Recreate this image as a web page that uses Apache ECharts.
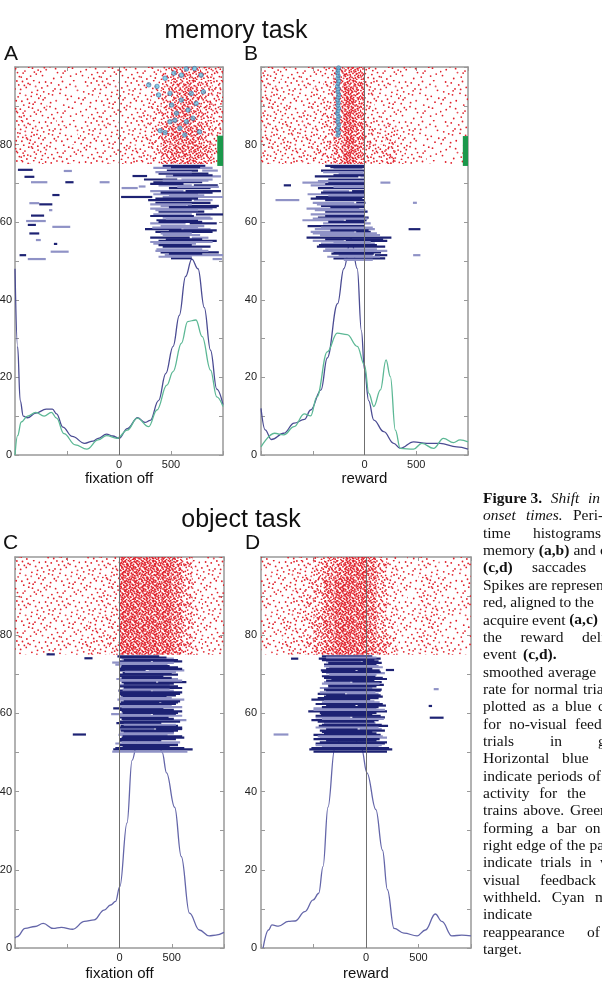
<!DOCTYPE html>
<html>
<head>
<meta charset="utf-8">
<script src="https://cdn.jsdelivr.net/npm/echarts@6/dist/echarts.min.js"></script>
<style>
  html, body { margin: 0; padding: 0; background: #fff; }
  #chart { width: 602px; height: 1001px; }
</style>
</head>
<body>
<div id="chart"></div>
<script>
// raster: time bin edges (ms) and trial bands, density per cell (0-9), top band first
const rasterEdges = [-1000,-900,-800,-700,-600,-500,-400,-300,-200,-100,0,100,200,300,400,500,600,700,800,900,1000];
const rasterBands = [100, 95, 90, 85, 80, 75];

const rasterA = [
  [3,3,3,2,2,2,2,3,3,3, 3,3,3,4,5,7,7,7,6,5],
  [3,3,3,2,2,2,2,2,3,3, 3,3,3,4,6,7,8,7,6,5],
  [4,3,3,3,2,2,2,3,3,3, 3,3,4,5,6,8,8,7,6,5],
  [4,4,3,3,3,2,3,3,3,3, 3,3,4,5,7,8,8,8,6,5],
  [4,4,4,3,3,3,3,3,3,3, 4,4,4,5,7,8,8,8,7,5]
];
const rasterB = [
  [4,4,3,3,3,3,4,7,8,8, 4,3,3,3,2,2,2,2,2,2],
  [4,4,3,3,3,4,4,7,9,8, 4,3,3,3,2,2,2,2,2,2],
  [4,4,4,3,4,4,5,7,9,8, 4,3,3,3,2,2,2,2,2,2],
  [4,4,4,4,4,4,5,7,9,8, 5,4,5,3,3,2,2,2,2,2],
  [4,4,4,4,4,5,5,7,9,8, 5,5,6,4,3,3,2,2,2,2]
];
const rasterC = [
  [3,3,3,3,3,3,3,3,3,4, 9,9,9,9,9,8,6,3,3,3],
  [3,3,3,3,3,3,3,3,4,4, 9,9,9,9,9,8,6,3,3,3],
  [3,3,3,3,3,3,3,3,4,4, 9,9,9,9,9,8,6,4,3,3],
  [3,3,3,3,3,3,3,4,4,4, 9,9,9,9,9,8,6,4,3,3],
  [3,3,3,3,3,3,4,4,4,5, 9,9,9,9,9,8,6,4,3,3]
];
const rasterD = [
  [3,3,3,4,4,6,7,8,9,9, 8,6,4,3,2,3,3,2,2,3],
  [3,3,3,4,5,6,8,9,9,9, 8,6,4,3,2,4,4,3,2,3],
  [3,3,3,4,5,6,8,9,9,9, 8,6,4,3,2,4,4,3,2,3],
  [3,3,4,4,5,7,8,9,9,9, 8,6,4,3,3,4,4,2,2,2],
  [3,3,4,4,5,7,8,9,9,9, 8,7,5,3,3,4,4,3,2,2]
];

// activity periods: [trial, start ms, end ms]
const barsA = [
  [73.5,-972,-830],[73.2,-531,-453],[71.7,-909,-814],[70.3,-846,-689],[70.3,-516,-437],[70.3,-186,-91],
  [67.0,-641,-572],[64.9,-862,-767],[64.6,-767,-641],[63.1,-673,-641],[61.7,-846,-720],[60.3,-893,-704],
  [59.3,-877,-799],[58.8,-641,-469],[57.1,-862,-767],[55.4,-799,-752],[54.4,-626,-594],[52.4,-657,-484],
  [51.5,-956,-893],[50.5,-877,-704],[71.9,130,270],[69.2,190,255],
  [74.5,420,830],[74.0,330,900],[73.3,460,760],[73.3,800,950],[72.5,380,860],[71.8,450,980],
  [71.0,240,560],[71.0,600,900],[70.3,330,800],[69.5,380,700],[69.5,720,950],[68.8,25,180],
  [68.8,480,880],[68.0,300,620],[68.0,640,980],[67.2,330,760],[66.5,20,320],[66.5,420,1000],
  [65.7,280,700],[65.7,720,900],[65.0,350,880],[64.2,400,650],[64.2,660,960],[63.5,300,900],
  [62.7,380,820],[62.0,330,700],[62.0,740,1000],[61.2,420,880],[60.5,360,760],[59.7,300,640],
  [59.7,680,940],[59.0,400,820],[58.2,250,600],[58.2,620,880],[57.5,350,900],[56.7,420,780],
  [56.0,300,680],[56.0,700,860],[55.2,380,940],[54.5,330,740],[53.7,420,880],[53.0,360,800],
  [52.2,400,960],[51.5,440,1000],[50.7,500,700],[50.5,900,990],
  [74.2,500,780],[72.9,350,700],[72.1,520,900],[70.7,420,860],[69.9,300,620],[69.1,560,960],
  [67.6,400,900],[66.9,480,820],[66.1,350,760],[64.6,300,700],[63.9,480,940],[63.1,350,760],
  [61.6,300,720],[60.9,450,900],[60.1,380,800],[58.6,320,760],[57.9,480,940],[57.1,400,700],
  [55.6,450,800],[54.9,300,900],[54.1,380,700],[52.6,350,860],[51.9,480,800],[51.1,380,700]
];
const barsB = [
  [74.5,-380,0],[74.0,-300,-20],[73.3,-420,0],[72.5,-250,0],[71.8,-480,-60],[71.8,-40,0],
  [71.0,-350,0],[70.2,-600,-380],[70.2,-350,0],[70.2,154,250],[69.5,-780,-710],[69.5,-520,0],
  [68.8,-450,0],[68.0,-400,-150],[68.0,-120,0],[67.2,-550,0],[66.5,-470,0],[65.7,-860,-630],
  [65.7,-380,0],[65.0,-500,-100],[65.0,-80,10],[65.0,468,506],[64.2,-420,0],[63.5,-560,-50],
  [62.7,-380,30],[62.0,-520,0],[61.2,-450,40],[60.5,-600,-200],[60.5,-180,20],[59.7,-400,60],
  [59.0,-550,0],[58.2,-480,100],[58.2,426,540],[57.5,-520,-100],[57.5,-80,60],[56.7,-430,150],
  [56.0,-560,260],[55.2,-500,-200],[55.2,-180,220],[54.5,-420,100],[53.7,-460,200],[53.0,-380,120],
  [52.2,-300,160],[51.5,-250,80],[51.5,100,220],[51.5,470,540],[50.7,-300,200],[50.3,-200,80],
  [74.2,-330,0],[72.9,-400,-10],[72.1,-300,0],[70.6,-450,0],[69.9,-380,0],[69.1,-300,0],
  [67.6,-420,0],[66.9,-350,0],[66.1,-520,-20],[64.6,-460,0],[63.9,-330,0],[63.1,-480,10],
  [61.6,-380,0],[60.9,-500,30],[60.1,-350,0],[58.6,-420,80],[57.9,-330,40],[57.1,-500,120],
  [55.6,-380,180],[54.9,-300,60],[54.1,-440,120],[52.6,-400,220],[51.9,-320,90],[51.1,-360,150]
];
const barsC = [
  [75.1,-698,-619],[74.1,-336,-258],[73.0,-70,10],[54.6,-447,-321],
  [74.6,-20,380],[74.0,20,520],[73.3,0,300],[73.3,320,600],[72.5,-40,460],[71.8,10,560],
  [71.0,0,250],[71.0,280,620],[70.3,30,500],[69.5,0,420],[68.8,-30,560],[68.0,20,350],
  [68.0,370,640],[67.3,0,480],[66.5,40,600],[65.8,-10,300],[65.8,320,520],[65.0,0,580],
  [64.3,30,450],[63.5,-20,620],[62.8,10,380],[62.8,400,560],[62.0,0,500],[61.3,-60,420],
  [60.5,20,600],[59.8,-80,300],[59.8,320,540],[59.0,0,470],[58.3,30,640],[57.5,-30,400],
  [56.8,10,560],[56.0,0,330],[56.0,350,600],[55.3,40,520],[54.5,-10,460],[53.8,20,620],
  [53.0,0,400],[52.3,-40,560],[51.5,30,480],[50.8,-60,700],[50.2,-70,650],
  [74.3,0,450],[73.6,40,560],[72.9,0,520],[72.1,20,480],[71.4,0,600],[70.6,50,540],
  [69.9,0,560],[69.1,20,500],[68.4,0,600],[67.6,40,520],[66.9,0,560],[66.1,30,480],
  [65.4,0,600],[64.6,10,540],[63.9,0,500],[63.1,40,580],[62.4,0,540],[61.6,20,600],
  [60.9,0,520],[60.1,30,560],[59.4,0,600],[58.6,20,520],[57.9,0,580],[57.1,40,540],
  [56.4,0,600],[55.6,10,560],[54.9,0,520],[54.1,30,600],[53.4,0,540],[52.6,20,580],
  [51.9,0,560],[51.1,-40,620]
];
const barsD = [
  [74.0,-714,-645],[71.1,189,267],[66.2,645,692],[61.9,597,629],[58.9,607,739],[54.6,-880,-739],
  [74.6,-420,60],[74.0,-450,140],[73.3,-380,-50],[73.3,-30,120],[72.5,-400,100],[71.8,-350,160],
  [71.0,-430,-100],[71.0,-80,130],[70.3,-380,180],[69.5,-420,90],[68.8,-330,200],[68.0,-400,-150],
  [68.0,-130,150],[67.3,-360,170],[66.5,-440,60],[65.8,-380,140],[65.0,-460,-200],[65.0,-180,120],
  [64.3,-400,160],[63.5,-520,40],[62.8,-420,130],[62.0,-380,-100],[62.0,-80,190],[61.3,-500,100],
  [60.5,-550,200],[59.8,-430,60],[59.0,-480,-150],[59.0,-130,180],[58.3,-520,120],[57.5,-400,90],
  [56.8,-450,210],[56.0,-380,-80],[56.0,-60,150],[55.3,-420,60],[54.5,-500,140],[53.8,-440,200],
  [53.0,-380,100],[52.3,-480,180],[51.5,-420,120],[50.8,-540,250],[50.2,-500,200],
  [74.3,-380,100],[73.6,-420,80],[72.9,-360,150],[72.1,-400,120],[71.4,-380,60],[70.6,-420,140],
  [69.9,-350,100],[69.1,-400,160],[68.4,-380,80],[67.6,-420,130],[66.9,-360,100],[66.1,-400,150],
  [65.4,-440,90],[64.6,-380,140],[63.9,-460,120],[63.1,-400,80],[62.4,-480,160],[61.6,-420,120],
  [60.9,-500,180],[60.1,-440,100],[59.4,-480,140],[58.6,-420,170],[57.9,-460,80],[57.1,-420,150],
  [56.4,-480,120],[55.6,-440,180],[54.9,-400,100],[54.1,-460,160],[53.4,-500,130],[52.6,-440,200],
  [51.9,-480,150],[51.1,-520,220]
];

// smoothed firing rate: [ms, value]
const rateABlue = [[-1000,48],[-975,28],[-950,14],[-920,10],[-880,9.6],[-800,10.8],[-700,11.8],[-640,11.8],[-600,10.6],[-540,7.2],[-450,4.8],[-330,3.0],[-250,3.6],[-200,4.3],[-120,5.4],[-60,4.9],[0,4.3],[80,6.8],[180,9.6],[250,8.4],[300,8.9],[380,14],[450,21],[520,28],[580,36],[640,46],[700,50.5],[760,48],[820,38],[880,27],[940,17],[1000,13]];
const rateAGreen = [[-1000,0],[-975,5],[-940,8.5],[-880,10],[-800,11],[-720,10],[-650,11],[-600,9.5],[-530,5.5],[-420,2.6],[-310,1.5],[-200,3.9],[-120,5.0],[-20,4.3],[80,6.4],[175,9.5],[285,7.3],[365,11.6],[460,18],[520,21.5],[600,28.8],[660,34.4],[740,34.8],[800,30.5],[880,21.9],[940,15],[1000,12.5]];
const rateBBlue = [[-1000,12],[-960,6.5],[-900,4],[-780,5.6],[-680,8.2],[-580,9.2],[-520,11.6],[-420,16.8],[-360,25],[-260,39],[-200,48],[-130,56],[-70,48],[-30,32],[0,22],[40,14],[90,9],[186,6],[282,3],[346,1.7],[474,3.4],[603,3],[731,3],[891,2.1],[1000,1.5]];
const rateBGreen = [[-1000,2.1],[-870,5.6],[-780,5.2],[-680,7.3],[-583,10.6],[-520,10.1],[-460,15],[-360,26.6],[-263,31.4],[-167,31],[-70,28],[0,23.2],[42,15.9],[90,12.5],[154,16.8],[208,24.5],[250,20.2],[298,6.4],[346,1.7],[474,1.5],[554,3],[667,1.7],[763,4.3],[859,3.2],[923,3.9],[1000,3.4]];
const rateC = [[-1000,2.5],[-981,2.9],[-903,5],[-808,5.5],[-730,6.3],[-635,5],[-557,5.3],[-447,4.8],[-336,6.8],[-242,7.2],[-148,9.7],[-85,11],[-38,11.9],[3,15.7],[72,32],[120,48],[180,54],[280,56],[360,54],[409,50],[450,44.8],[528,36],[591,23.4],[670,8.9],[764,4.6],[858,3.1],[921,3.3],[1000,4]];
const rateD = [[-980,0],[-928,4.6],[-896,5.9],[-833,5.6],[-739,6.8],[-676,6.9],[-582,9.3],[-503,12.3],[-450,14],[-409,20.9],[-362,36],[-299,50.8],[-220,55],[-140,55],[-41,50.8],[9,44.8],[94,35.4],[157,25],[204,14.9],[267,5],[362,3.8],[487,3.1],[566,4.6],[660,8.7],[723,6.8],[818,3.1],[912,3.3],[1000,3.1]];

// target reappearance: [ms, trial]
const cyanA = [[286,95.4],[380,92.8],[443,97.1],[490,93.2],[528,98.4],[600,97.9],[648,99.5],[726,99.6],[789,97.9],[506,90.2],[600,91.5],[664,88.9],[553,88.1],[742,90.6],[811,93.6],[490,85.9],[585,84.2],[648,85.9],[711,86.8],[774,83.3],[396,83.6],[443,83.1],[538,86.3],[632,82.5],[695,93.2],[365,95.0]];
const cyanB = [[-258,82.4],[-250,83.1],[-262,83.8],[-254,84.5],[-248,85.2],[-260,85.9],[-256,86.6],[-250,87.3],[-263,88.0],[-255,88.7],[-249,89.4],[-258,90.1],[-252,90.8],[-261,91.5],[-254,92.2],[-248,92.9],[-259,93.6],[-253,94.3],[-262,95.0],[-256,95.7],[-250,96.4],[-258,97.1],[-253,97.8],[-260,98.5],[-255,99.2],[-251,99.8]];

// no-visual-feedback trials: [start ms, end ms, first trial, last trial]
const greenA = [[945,1000,74.5,82.3]];
const greenB = [[950,1000,74.5,82.2]];

const captionLines = [
  [588, '*Figure 3.', '_Shift', '_in'],
  [573, '_onset', '_times.', 'Peri-'],
  [533, 'time', 'histograms'],
  [600, 'memory', '*(a,b)', 'and', 'covert'],
  [532, '*(c,d)', 'saccades'],
  [null, 'Spikes', 'are', 'represented'],
  [567, 'red,', 'aligned', 'to', 'the'],
  [567, 'acquire', 'event', '*(a,c)'],
  [582, 'the', 'reward', 'delivery'],
  [523, 'event', '*(c,d).'],
  [548, 'smoothed', 'average'],
  [583, 'rate', 'for', 'normal', 'trials'],
  [598, 'plotted', 'as', 'a', 'blue', 'curve'],
  [575, 'for', 'no-visual', 'feedback'],
  [598, 'trials', 'in', 'green'],
  [562, 'Horizontal', 'blue'],
  [588, 'indicate', 'periods', 'of'],
  [567, 'activity', 'for', 'the'],
  [570, 'trains', 'above.', 'Green'],
  [585, 'forming', 'a', 'bar', 'on'],
  [null, 'right', 'edge', 'of', 'the', 'panel'],
  [600, 'indicate', 'trials', 'in', 'which'],
  [540, 'visual', 'feedback'],
  [595, 'withheld.', 'Cyan', 'marks'],
  [null, 'indicate'],
  [587, 'reappearance', 'of'],
  [null, 'target.']
];

const BLUE = '#4b4c93', GREEN = '#5cb895', BLUE_CD = '#6466a9';
const BAR_DARK = '#1d2273', BAR_LIGHT = '#8f92c6';
const AXIS = '#999';
const SANS = '"Liberation Sans", Arial, sans-serif';
const SERIF = '"Liberation Serif", "Times New Roman", serif';

const panels = [
  { grid: { left: 15, top: 67, width: 208, height: 388 }, raster: rasterA, bars: barsA, lightEvery: 2,
    rates: [[rateABlue, BLUE], [rateAGreen, GREEN]], cyan: cyanA, cyanSize: 4.5, green: greenA, name: 'fixation off', nameGap: 16, labelMargin: 3 },
  { grid: { left: 261, top: 67, width: 207, height: 388 }, raster: rasterB, bars: barsB, lightEvery: 2,
    rates: [[rateBBlue, BLUE], [rateBGreen, GREEN]], cyan: cyanB, cyanSize: 4, green: greenB, name: 'reward', nameGap: 16, labelMargin: 4 },
  { grid: { left: 15, top: 557, width: 209, height: 391 }, raster: rasterC, bars: barsC, lightEvery: 3,
    rates: [[rateC, BLUE_CD]], cyan: [], green: [], name: 'fixation off', nameGap: 18, labelMargin: 3 },
  { grid: { left: 261, top: 557, width: 210, height: 391 }, raster: rasterD, bars: barsD, lightEvery: 3,
    rates: [[rateD, BLUE_CD]], cyan: [], green: [], name: 'reward', nameGap: 18, labelMargin: 4 }
];

// red dot texture, one tile per density level (style only, Halton placement)
const DOTS_PER_LEVEL = [0, 22, 42, 64, 92, 130, 180, 250, 340, 460];
function halton(i, b) {
  let f = 1, r = 0;
  while (i > 0) { f /= b; r += f * (i % b); i = Math.floor(i / b); }
  return r;
}
function makeTile(n) {
  const c = document.createElement('canvas');
  c.width = c.height = 40;
  const ctx = c.getContext('2d');
  ctx.fillStyle = '#e0202a';
  for (let i = 1; i <= n; i++) {
    const x = halton(i, 2) * 40, y = halton(i, 3) * 40;
    ctx.beginPath();
    ctx.arc(x, y, 0.9, 0, Math.PI * 2);
    ctx.fill();
  }
  return c;
}
const tiles = DOTS_PER_LEVEL.map(n => ({ image: makeTile(n), repeat: 'repeat' }));

function rasterData(m) {
  const out = [];
  m.forEach((row, r) => row.forEach((d, b) => {
    out.push([rasterEdges[b], rasterEdges[b + 1], rasterBands[r + 1], rasterBands[r], d]);
  }));
  return out;
}

function renderCell(params, api) {
  const p0 = api.coord([api.value(0), api.value(3)]);
  const p1 = api.coord([api.value(1), api.value(2)]);
  return {
    type: 'rect',
    shape: { x: p0[0], y: p0[1], width: p1[0] - p0[0], height: p1[1] - p0[1] },
    style: { fill: tiles[api.value(4)] }
  };
}

function renderGreen(params, api) {
  const p0 = api.coord([api.value(0), api.value(3)]);
  const p1 = api.coord([api.value(1), api.value(2)]);
  return {
    type: 'rect',
    shape: { x: p0[0], y: p0[1], width: p1[0] - p0[0], height: p1[1] - p0[1] },
    style: { fill: '#1b984b' }
  };
}

function barRenderer(lightEvery) {
  return function (params, api) {
    const a = api.coord([api.value(1), api.value(0)]);
    const b = api.coord([api.value(2), api.value(0)]);
    return {
      type: 'line',
      shape: { x1: a[0], y1: a[1], x2: b[0], y2: b[1] },
      style: { stroke: params.dataIndex % lightEvery === lightEvery - 1 ? BAR_LIGHT : BAR_DARK, lineWidth: 2.2 }
    };
  };
}

const grid = [], xAxis = [], yAxis = [], series = [];
const axisLine = { show: true, onZero: false, lineStyle: { color: AXIS, width: 1.5 } };
const axisTick = { show: true, inside: true, length: 4, lineStyle: { color: AXIS, width: 1 } };

panels.forEach((p, i) => {
  grid.push(Object.assign({ outerBoundsMode: 'none', containLabel: false }, p.grid));
  xAxis.push({
    gridIndex: i, type: 'value', min: -1000, max: 1000, interval: 500, position: 'bottom',
    axisLine, axisTick, splitLine: { show: false },
    axisLabel: { formatter: v => (v === 0 || v === 500) ? String(v) : '', color: '#222', fontSize: 11, fontFamily: SANS, margin: 4 },
    name: p.name, nameLocation: 'middle', nameGap: p.nameGap,
    nameTextStyle: { fontSize: 15, color: '#111', fontFamily: SANS }
  });
  xAxis.push({
    gridIndex: i, type: 'value', min: -1000, max: 1000, interval: 500, position: 'top',
    axisLine, axisTick, splitLine: { show: false }, axisLabel: { show: false }
  });
  yAxis.push({
    gridIndex: i, type: 'value', min: 0, max: 100, interval: 10, position: 'left',
    axisLine, axisTick, splitLine: { show: false },
    axisLabel: { formatter: v => (v % 20 === 0 && v < 100) ? String(v) : '', color: '#222', fontSize: 11, fontFamily: SANS, margin: p.labelMargin }
  });
  yAxis.push({
    gridIndex: i, type: 'value', min: 0, max: 100, interval: 10, position: 'right',
    axisLine, axisTick, splitLine: { show: false }, axisLabel: { show: false }
  });

  const xi = 2 * i, yi = 2 * i;
  series.push({
    type: 'custom', xAxisIndex: xi, yAxisIndex: yi, z: 1, silent: true,
    encode: { x: [0, 1], y: [2, 3] }, renderItem: renderCell, data: rasterData(p.raster)
  });
  p.rates.forEach(([data, color]) => {
    series.push({
      type: 'line', xAxisIndex: xi, yAxisIndex: yi, z: 2, silent: true,
      data, smooth: 0.4, smoothMonotone: 'x', showSymbol: false,
      lineStyle: { color, width: 1.3 }
    });
  });
  series.push({
    type: 'custom', xAxisIndex: xi, yAxisIndex: yi, z: 3, silent: true, clip: true,
    encode: { x: [1, 2], y: 0 }, renderItem: barRenderer(p.lightEvery), data: p.bars,
    markLine: {
      silent: true, symbol: 'none', label: { show: false },
      lineStyle: { color: '#6f6f6f', width: 1, type: 'solid' },
      data: [{ xAxis: 0 }]
    }
  });
  if (p.green.length) {
    series.push({
      type: 'custom', xAxisIndex: xi, yAxisIndex: yi, z: 4, silent: true,
      encode: { x: [0, 1], y: [2, 3] }, renderItem: renderGreen, data: p.green
    });
  }
  if (p.cyan.length) {
    series.push({
      type: 'scatter', xAxisIndex: xi, yAxisIndex: yi, z: 4, silent: true,
      data: p.cyan, symbol: 'circle', symbolSize: p.cyanSize,
      itemStyle: { color: 'rgba(80,190,225,0.85)', borderColor: '#4a6fa0', borderWidth: 0.8 }
    });
  }
});

// texts: headings, panel letters, caption column
const graphics = [
  { type: 'text', x: 236, y: 31, style: { text: 'memory task', font: '25px ' + SANS, fill: '#111', align: 'center', verticalAlign: 'middle' } },
  { type: 'text', x: 241, y: 520, style: { text: 'object task', font: '25px ' + SANS, fill: '#111', align: 'center', verticalAlign: 'middle' } },
  { type: 'text', x: 4, y: 54, style: { text: 'A', font: '21px ' + SANS, fill: '#111', align: 'left', verticalAlign: 'middle' } },
  { type: 'text', x: 244, y: 54, style: { text: 'B', font: '21px ' + SANS, fill: '#111', align: 'left', verticalAlign: 'middle' } },
  { type: 'text', x: 3, y: 543, style: { text: 'C', font: '21px ' + SANS, fill: '#111', align: 'left', verticalAlign: 'middle' } },
  { type: 'text', x: 245, y: 543, style: { text: 'D', font: '21px ' + SANS, fill: '#111', align: 'left', verticalAlign: 'middle' } }
];

const measure = document.createElement('canvas').getContext('2d');
function wordFont(w) {
  if (w[0] === '*') return 'bold 15.5px ' + SERIF;
  if (w[0] === '_') return 'italic 15.5px ' + SERIF;
  return '15.5px ' + SERIF;
}
captionLines.forEach((line, i) => {
  const lastX = line[0];
  const words = line.slice(1);
  const texts = words.map(w => (w[0] === '*' || w[0] === '_') ? w.slice(1) : w);
  const widths = words.map((w, k) => { measure.font = wordFont(w); return measure.measureText(texts[k]).width; });
  let gap = 4;
  if (lastX !== null && words.length > 1) {
    const used = widths.slice(0, -1).reduce((a, b) => a + b, 0);
    gap = Math.max(3.5, (lastX - 483 - used) / (words.length - 1));
  }
  let x = 483;
  const y = 499 + i * 17.35;
  words.forEach((w, k) => {
    graphics.push({ type: 'text', x, y, silent: true, style: { text: texts[k], font: wordFont(w), fill: '#111', align: 'left', verticalAlign: 'middle' } });
    x += widths[k] + gap;
  });
});

const chart = echarts.init(document.getElementById('chart'), null, { renderer: 'canvas' });
chart.setOption({
  backgroundColor: '#fff',
  animation: false,
  grid, xAxis, yAxis, series,
  graphic: { elements: graphics }
});
</script>
</body>
</html>
